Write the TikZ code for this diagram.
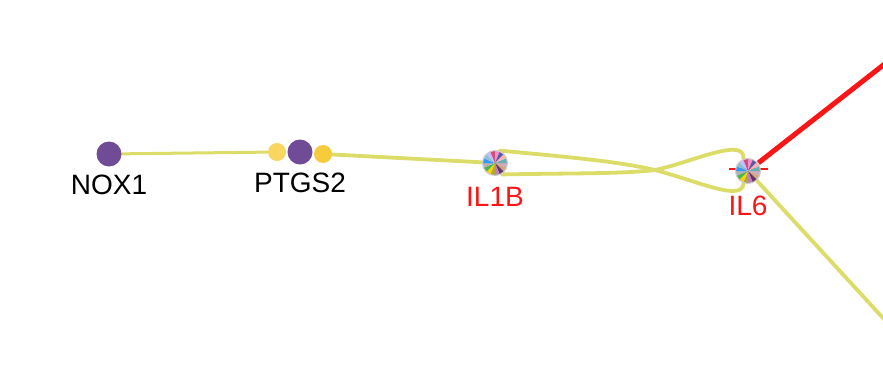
\documentclass[tikz,border=0pt]{standalone}
\usepackage{fontspec}
\setmainfont{Liberation Sans}
\usetikzlibrary{backgrounds}

\definecolor{linkyellow}{RGB}{220,220,104}
\definecolor{genepurple}{RGB}{112,76,150}
\definecolor{drugpale}{RGB}{248,214,96}
\definecolor{druggold}{RGB}{247,204,60}
\definecolor{hitred}{RGB}{250,22,22}

\tikzset{
  gene/.style={circle,fill=genepurple,minimum size=25pt,inner sep=0pt},
  drug/.style={circle,minimum size=18pt,inner sep=0pt},
  hub/.style={circle,minimum size=26pt,inner sep=0pt},
  genelabel/.style={font=\fontsize{28}{30}\selectfont,text=black},
  hublabel/.style={genelabel,text=hitred},
  link/.style={draw=linkyellow,line width=3.8pt,line cap=round},
  hit/.style={draw=hitred,line width=5pt}
}

% pie of many slices over a hub node
\newcommand{\wedgepie}[1]{%
  \foreach \wc [count=\wi from 0] in {magenta!30!gray!60,brown!70,violet!50!black!80,violet!50,
      olive!70,yellow!70!orange,green!40!gray,gray!60,blue!50!cyan!80,cyan!50!gray!70,
      blue!25!white,purple!70,magenta!45,blue!30!gray,red!30!white,teal!60}
    \fill[\wc] (#1.center) -- ++(\wi*22.5:12.5)
      arc[start angle=\wi*22.5,end angle=\wi*22.5+22.5,radius=12.5] -- cycle;
  \draw[gray!40,line width=1pt] (#1.center) circle[radius=12.5];}

\begin{document}
\begin{tikzpicture}[x=1pt,y=-1pt]
\useasboundingbox (0,0) rectangle (883,380);

% genes and drugs
\node[gene,label={[genelabel,label distance=5pt]below:NOX1}] (nox1) at (109,154) {};
\node[gene,label={[genelabel,label distance=5pt]below:PTGS2}] (ptgs2) at (300,152) {};
\node[drug,fill=drugpale] (pa) at (277,152) {};
\node[drug,fill=druggold] (pb) at (323,154) {};
\node[hub,label={[hublabel,label distance=8pt]below:IL1B}] (il1b) at (495,163) {};
\node[hub,label={[hublabel,label distance=8pt]below:IL6}] (il6) at (748,171) {};
\coordinate (hitend) at (905,48);
\coordinate (linkend) at (905,342);

\begin{scope}[on background layer]
\draw[link,line width=3pt] (nox1) -- (pa);
\draw[link] (pb) -- (il1b);
\draw[link] (il1b.70) .. controls (580,158) and (620,162) .. (655,170)
  .. controls (700,182) and (742,202) .. (il6.250);
\draw[link] (il1b.-60) .. controls (580,173) and (620,174) .. (655,170)
  .. controls (690,163) and (745,136) .. (il6.110);
\draw[link] (il6) -- (linkend);
\draw[hit] (il6) -- (hitend);
\draw[hit,line width=2.6pt] ([xshift=-19pt,yshift=2pt]il6.center) -- ([xshift=20pt,yshift=2pt]il6.center);
\end{scope}

\wedgepie{il1b}
\wedgepie{il6}
\end{tikzpicture}
\end{document}
